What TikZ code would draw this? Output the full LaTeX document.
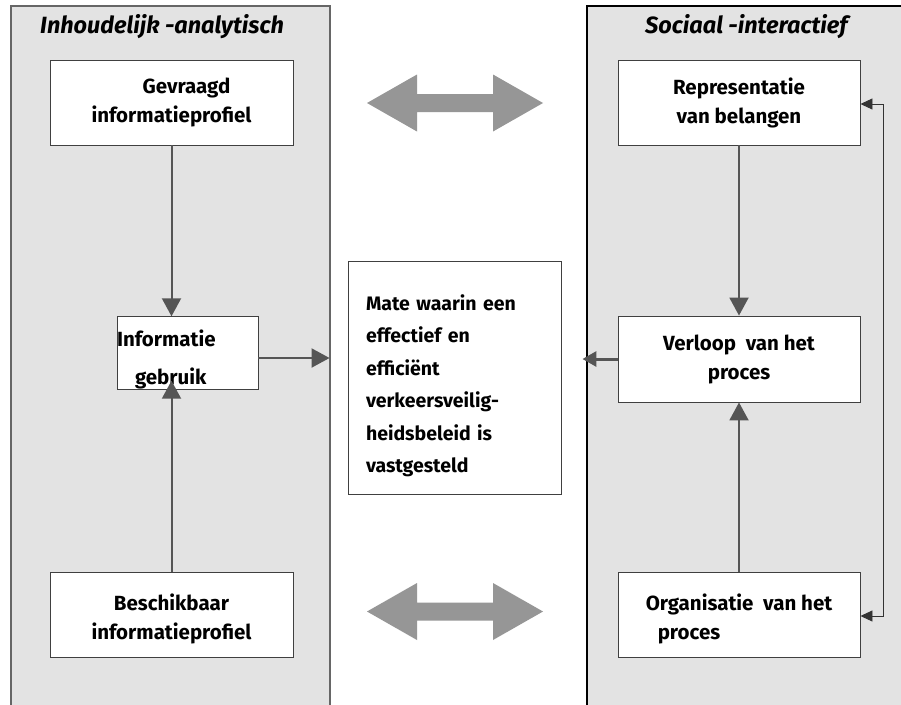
\documentclass[tikz,border=0pt]{standalone}
\usepackage{fontspec}
\setmainfont{Fira Sans}
\usetikzlibrary{arrows.meta}
\definecolor{panelgray}{HTML}{E3E3E3}
\definecolor{arrowgray}{HTML}{555555}
\definecolor{bigarrow}{HTML}{969696}
\tikzset{
  panel/.style={fill=panelgray, draw=#1, line width=1.3pt},
  box/.style={draw=black!75, fill=white, line width=0.9pt, inner sep=0pt,
    minimum width=#1, font=\bfseries\fontsize{20.5}{29}\selectfont, align=center},
  flow/.style={draw=arrowgray, line width=2pt,
    -{Triangle[width=19pt,length=18pt]}},
  loopline/.style={draw=black!80, line width=0.9pt,
    {Triangle[width=11pt,length=12pt]}-{Triangle[width=11pt,length=12pt]}},
  heading/.style={font=\bfseries\itshape\fontsize{23.5}{26}\selectfont, anchor=base west, inner sep=0pt},
}
\begin{document}
\begin{tikzpicture}[x=1pt,y=-1pt]
\useasboundingbox (0,0) rectangle (901,704);
\fill[white] (0,0) rectangle (901,704);

% two column panels
\path[panel=black!60] (11,6) rectangle (330,712);
\path[panel=black] (587,6) rectangle (910,712);

\node[heading] (hl) at (40,33) {Inhoudelijk -analytisch};
\node[heading] (hr) at (645,33) {Sociaal -interactief};

% boxes
\node[box=243pt, minimum height=85pt] (gev) at (171.5,102.5) {\hspace*{30pt}Gevraagd\\informatieprofiel};
\node[box=242pt, minimum height=85pt] (rep) at (739,102.5) {Representatie\\van belangen};
\node[box=141pt, minimum height=68pt, align=left, text width=141pt] (gebr) at (187.5,353)
  {\rule{0pt}{30pt}Informatie\\[9pt]\hspace*{18pt}gebruik};
\node[box=213pt, minimum height=233pt, align=left, text width=177pt,
      font=\bfseries\fontsize{19.5}{32.5}\selectfont] (mate) at (454.5,377.5)
  {\rule{0pt}{32pt}Mate waarin een\\effectief en\\effici\"ent\\verkeersveilig-\\heidsbeleid is\\vastgesteld};
\node[box=242pt, minimum height=86pt] (verl) at (739,359) {Verloop\ \ van het\\proces};
\node[box=243pt, minimum height=85pt] (besch) at (171.5,614.5) {\rule{0pt}{26pt}Beschikbaar\\informatieprofiel};
\node[box=242pt, minimum height=85pt, align=left] (org) at (739,614.5) {\rule{0pt}{26pt}Organisatie\ \ van het\\\hspace*{12pt}proces};

% connectors
\draw[flow] (gev.south) -- (gev.south |- gebr.north);
\draw[flow] (besch.north) -- ([yshift=9pt]besch.north |- gebr.south);
\draw[flow, shorten >=18pt] ([yshift=-5pt]gebr.east) -- ([yshift=-5pt]gebr.east -| mate.west);
\draw[draw=arrowgray, line width=3pt, -{Triangle[width=15pt,length=14pt]}, shorten >=21pt]
  (verl.west) -- (verl.west -| mate.east);
\draw[flow] (rep.south) -- (rep.south |- verl.north);
\draw[flow] (org.north) -- (org.north |- verl.south);
\draw[loopline] ([yshift=-1.5pt]org.east) -- ++(23,0) |- ([yshift=-1.5pt]rep.east);

% exchange arrows between the two columns
\foreach \cy/\nm in {103/xtop, 611.5/xbot}{
  \fill[bigarrow] (367,\cy) -- (417,\cy-28.5) -- (417,\cy-9) -- (493,\cy-9)
    -- (493,\cy-28.5) -- (543,\cy) -- (493,\cy+28.5) -- (493,\cy+9)
    -- (417,\cy+9) -- (417,\cy+28.5) -- cycle;
  \coordinate (\nm) at (455,\cy);
}
\end{tikzpicture}
\end{document}
